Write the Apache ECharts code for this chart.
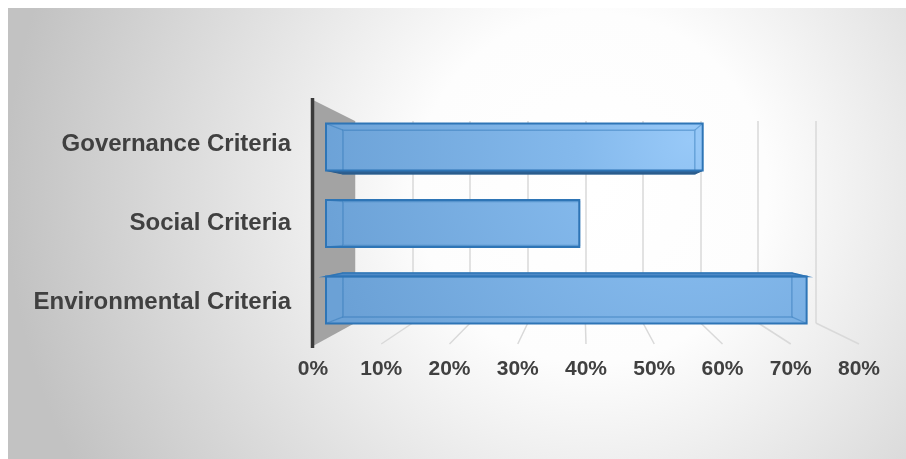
<!DOCTYPE html>
<html><head><meta charset="utf-8">
<script src="https://cdn.jsdelivr.net/npm/echarts@6/dist/echarts.min.js"></script>
<style>html,body{margin:0;padding:0;background:#fff}#c{width:906px;height:459px}</style>
</head><body><div id="c"></div>
<script>
const categories = ['Governance Criteria', 'Social Criteria', 'Environmental Criteria'];
const shareValues = [58, 39, 74];
const tickLabels = ['0%', '10%', '20%', '30%', '40%', '50%', '60%', '70%', '80%'];
const axisMin = 0, axisMax = 80, axisStep = 10;

const FONT = "'Liberation Sans', Arial, sans-serif";
const VP = [583, 224], S = 0.934;   // perspective vanishing point & depth scale
const BAR_RATIO = 0.614;

const chart = echarts.init(document.getElementById('c'), null, { renderer: 'canvas' });

function back(p) { return [VP[0] + S * (p[0] - VP[0]), VP[1] + S * (p[1] - VP[1])]; }

function renderBar(params, api) {
  const v = api.value(0), c = api.value(1);
  const p0 = api.coord([0, c]), p1 = api.coord([v, c]);
  const h = api.size([0, 1])[1] * BAR_RATIO;
  const x0 = p0[0], x1 = p1[0], y0 = p0[1] - h / 2, y1 = p0[1] + h / 2;
  const ftl = [x0, y0], ftr = [x1, y0], fbr = [x1, y1], fbl = [x0, y1];
  const btl = back(ftl), btr = back(ftr), bbr = back(fbr), bbl = back(fbl);
  const fill = new echarts.graphic.RadialGradient(690, 140, 380, [
    { offset: 0, color: '#98c9f8' }, { offset: 0.3, color: '#84b9ec' }, { offset: 1, color: '#6ba1d6' }
  ], true);
  const children = [];
  children.push({ type: 'polygon', shape: { points: [ftl, ftr, fbr, fbl] }, style: { fill: fill } });
  const edge = { stroke: 'rgba(46,117,182,0.45)', lineWidth: 1.5, fill: null };
  children.push({ type: 'polygon', shape: { points: [btl, btr, bbr, bbl] }, style: edge });
  [[ftl, btl], [ftr, btr], [fbr, bbr], [fbl, bbl]].forEach(function (s) {
    children.push({ type: 'line', shape: { x1: s[0][0], y1: s[0][1], x2: s[1][0], y2: s[1][1] }, style: { stroke: 'rgba(46,117,182,0.45)', lineWidth: 1.2 } });
  });
  if (y1 < VP[1] - 2) {
    children.push({ type: 'polygon', shape: { points: [fbl, fbr, bbr, bbl] }, style: { fill: '#2c5f91', stroke: '#2a5a88', lineWidth: 1 } });
  }
  if (y0 > VP[1] + 2) {
    children.push({ type: 'polygon', shape: { points: [ftl, ftr, btr, btl] }, style: { fill: '#4d89c6', stroke: '#2e75b6', lineWidth: 1.5 } });
  }
  children.push({ type: 'polygon', shape: { points: [ftl, ftr, fbr, fbl] }, style: { fill: null, stroke: '#2e75b6', lineWidth: 2 } });
  return { type: 'group', children: children };
}

const labelStyle = { fontFamily: FONT, fontWeight: 'bold', color: '#404040' };

chart.setOption({
  animation: false,
  backgroundColor: 'transparent',
  grid: [
    { left: 326, width: 519.6, top: 108.75, height: 229.5 },
    { left: 313, width: 546, top: 104.5, height: 237 },
    { left: 355, width: 460.8, top: 121, height: 202 }
  ],
  xAxis: [
    { gridIndex: 0, type: 'value', min: axisMin, max: axisMax, interval: axisStep, show: false },
    { gridIndex: 1, type: 'value', min: axisMin, max: axisMax, interval: axisStep,
      axisLine: { show: false }, axisTick: { show: false }, splitLine: { show: false },
      axisLabel: Object.assign({ margin: 17, fontSize: 21, formatter: function (v) { return tickLabels[Math.round(v / axisStep)]; } }, labelStyle) },
    { gridIndex: 2, type: 'value', min: axisMin, max: axisMax, interval: axisStep,
      axisLine: { show: false }, axisTick: { show: false }, axisLabel: { show: false },
      splitLine: { show: true, lineStyle: { color: '#d9d9d9', width: 1.5 } } }
  ],
  yAxis: [
    { gridIndex: 0, type: 'category', data: categories, inverse: true, show: false },
    { gridIndex: 1, type: 'category', data: categories, inverse: true,
      axisLine: { show: false }, axisTick: { show: false }, splitLine: { show: false },
      axisLabel: Object.assign({ margin: 22, fontSize: 24 }, labelStyle) },
    { gridIndex: 2, type: 'category', data: categories, inverse: true, show: false }
  ],
  series: [{
    type: 'custom', xAxisIndex: 0, yAxisIndex: 0, z: 10,
    renderItem: renderBar,
    encode: { x: 0, y: 1 },
    data: shareValues.map(function (v, i) { return [v, i]; })
  }]
});

// decorations: background, side wall, floor lines, vertical axis line
const FRONT_FLOOR_Y = 344, BACK_FLOOR_Y = 323, WALL_TOP_FRONT = 100, WALL_TOP_BACK = 121, WALL_BOTTOM_FRONT = 346;
const els = [];
els.push({ type: 'rect', z: -100, shape: { x: 8, y: 8, width: 898, height: 451 }, silent: true,
  style: { fill: new echarts.graphic.RadialGradient(0.65, 0.4, 1.3, [
    { offset: 0, color: '#ffffff' }, { offset: 0.3, color: '#fdfdfd' }, { offset: 1, color: '#c2c2c2' }]) } });
const fx0 = chart.convertToPixel({ xAxisIndex: 1 }, 0);
const bx0 = chart.convertToPixel({ xAxisIndex: 2 }, 0);
for (let k = 1; k < tickLabels.length; k++) {
  const fx = chart.convertToPixel({ xAxisIndex: 1 }, k * axisStep);
  const bx = chart.convertToPixel({ xAxisIndex: 2 }, k * axisStep);
  els.push({ type: 'line', z: 1, silent: true, shape: { x1: bx, y1: BACK_FLOOR_Y, x2: fx, y2: FRONT_FLOOR_Y }, style: { stroke: '#d9d9d9', lineWidth: 1.5 } });
}
els.push({ type: 'polygon', z: 5, silent: true, shape: { points: [[fx0, WALL_TOP_FRONT], [bx0, WALL_TOP_BACK], [bx0, BACK_FLOOR_Y], [fx0, WALL_BOTTOM_FRONT]] }, style: { fill: '#a3a3a3' } });
els.push({ type: 'line', z: 6, silent: true, shape: { x1: fx0 - 0.5, y1: WALL_TOP_FRONT - 2, x2: fx0 - 0.5, y2: WALL_BOTTOM_FRONT + 2 }, style: { stroke: '#3a3a3a', lineWidth: 3.5 } });
chart.setOption({ graphic: { elements: els } });
</script>
</body></html>
